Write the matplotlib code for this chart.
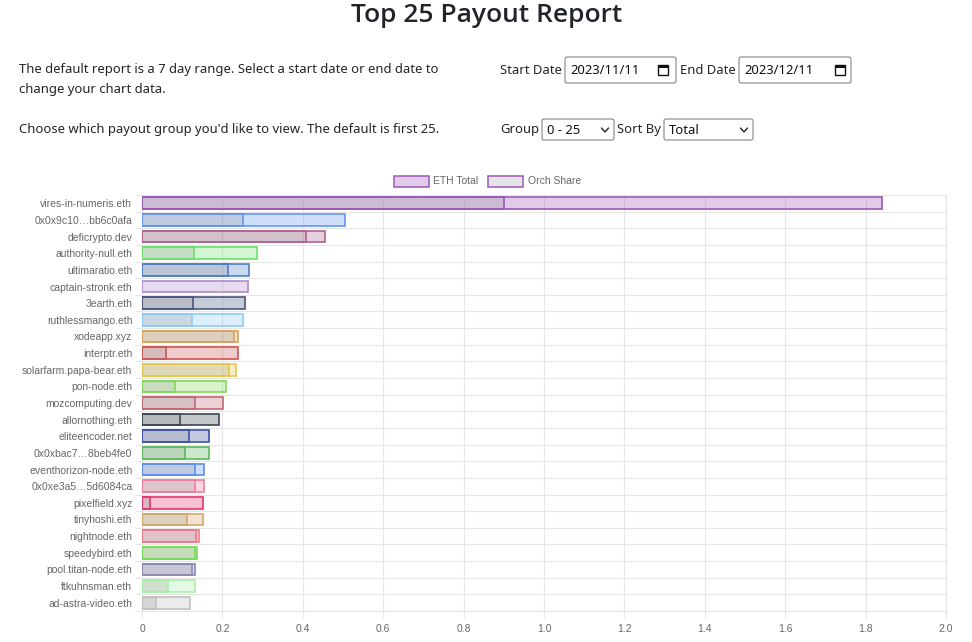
import matplotlib
matplotlib.use("Agg")
import matplotlib.pyplot as plt
from matplotlib.patches import Rectangle, FancyBboxPatch
from matplotlib.colors import to_rgb
import numpy as np

# ---------------- data ----------------
names = ["vires-in-numeris.eth", "0x0x9c10…bb6c0afa", "deficrypto.dev", "authority-null.eth",
         "ultimaratio.eth", "captain-stronk.eth", "3earth.eth", "ruthlessmango.eth",
         "xodeapp.xyz", "interptr.eth", "solarfarm.papa-bear.eth", "pon-node.eth",
         "mozcomputing.dev", "allornothing.eth", "eliteencoder.net", "0x0xbac7…8beb4fe0",
         "eventhorizon-node.eth", "0x0xe3a5…5d6084ca", "pixelfield.xyz", "tinyhoshi.eth",
         "nightnode.eth", "speedybird.eth", "pool.titan-node.eth", "ftkuhnsman.eth",
         "ad-astra-video.eth"]
eth_total = [1.840, 0.506, 0.454, 0.287, 0.265, 0.264, 0.256, 0.250, 0.240, 0.239,
             0.235, 0.208, 0.202, 0.192, 0.167, 0.167, 0.155, 0.155, 0.152, 0.152,
             0.142, 0.138, 0.132, 0.131, 0.119]
orch_share = [0.900, 0.252, 0.408, 0.129, 0.213, 0.0, 0.128, 0.125, 0.228, 0.059,
              0.216, 0.081, 0.131, 0.095, 0.116, 0.108, 0.131, 0.131, 0.021, 0.113,
              0.135, 0.132, 0.124, 0.065, 0.036]
bar_colors = ["#9b59b6", "#6495ed", "#b0648f", "#6ee06e", "#4f7fc6", "#b08ad0", "#4b5580",
              "#8ecbf5", "#d9a35c", "#cc5555", "#e6c84a", "#7ed957", "#c06878", "#3d4650",
              "#3f51a5", "#5cb85c", "#5b8ff0", "#f07ca0", "#e6336b", "#d4a86a", "#f0788c",
              "#77dd55", "#8a88b8", "#a8f0a8", "#c0c0c0"]
series_labels = ["ETH Total", "Orch Share"]
x_ticks = [0, 0.2, 0.4, 0.6, 0.8, 1.0, 1.2, 1.4, 1.6, 1.8, 2.0]

W, H = 972, 642
fig = plt.figure(figsize=(W / 100, H / 100), dpi=100)
fig.patch.set_facecolor("white")

PAGE_FONT = ["Noto Sans", "DejaVu Sans"]
TITLE_FONT = ["Open Sans", "DejaVu Sans"]
CHART_FONT = ["Liberation Sans", "DejaVu Sans"]
GRID = "#e6e6e6"
TXT = "#666666"

# ---------------- page overlay (pixel coordinates) ----------------
pa = fig.add_axes([0, 0, 1, 1])
pa.set_xlim(0, W)
pa.set_ylim(H, 0)
pa.axis("off")

pa.text(487, 15, "Top 25 Payout Report", ha="center", va="center",
        fontsize=19, fontweight="semibold", family=TITLE_FONT, color="#212529")

body = dict(fontsize=9.4, family=PAGE_FONT, color="#212529", va="center", ha="left")
pa.text(19, 69, "The default report is a 7 day range. Select a start date or end date to", **body)
pa.text(19, 89, "change your chart data.", **body)
pa.text(19, 130, "Choose which payout group you'd like to view. The default is first 25.", **body)

pa.text(500, 70, "Start Date", **body)
pa.text(680, 70, "End Date", **body)
pa.text(500, 130, "Group", **body)
pa.text(617, 130, "Sort By", **body)


def box(x0, y0, x1, y1):
    pa.add_patch(FancyBboxPatch((x0, y0), x1 - x0, y1 - y0,
                                boxstyle="round,pad=0,rounding_size=2",
                                facecolor="white", edgecolor="#858585", linewidth=0.8))


def calendar(cx, cy):
    pa.add_patch(Rectangle((cx - 5, cy - 5), 10, 10, facecolor="none",
                           edgecolor="#111111", linewidth=1.0))
    pa.add_patch(Rectangle((cx - 5, cy - 5), 10, 2.5, facecolor="#111111",
                           edgecolor="none"))


def chevron(cx, cy):
    pa.plot([cx - 3.5, cx, cx + 3.5], [cy - 2, cy + 2, cy - 2], color="#222222",
            linewidth=1.0, solid_capstyle="round")


inp = dict(fontsize=9.4, family=PAGE_FONT, color="#111111", va="center", ha="left")
box(565, 57, 676, 83)
pa.text(570, 70, "2023/11/11", **inp)
calendar(663, 70)
box(739, 57, 851, 83)
pa.text(744, 70, "2023/12/11", **inp)
calendar(840, 70)

box(542, 119, 614, 140)
pa.text(547, 130, "0 - 25", **inp)
chevron(605, 130)
box(664, 119, 753, 140)
pa.text(669, 130, "Total", **inp)
chevron(744, 130)

# legend
pa.add_patch(Rectangle((394, 176), 35, 11, facecolor=(*to_rgb(bar_colors[0]), 0.3),
                       edgecolor=bar_colors[0], linewidth=1.1))
pa.text(433, 181, series_labels[0], fontsize=7.5, family=CHART_FONT, color=TXT,
        va="center", ha="left")
pa.add_patch(Rectangle((488, 176), 35, 11, facecolor=(0.5, 0.5, 0.5, 0.2),
                       edgecolor=bar_colors[0], linewidth=1.1))
pa.text(528, 181, series_labels[1], fontsize=7.5, family=CHART_FONT, color=TXT,
        va="center", ha="left")

# ---------------- chart ----------------
left, right, top, bottom = 142, 946, 195, 611
ax = fig.add_axes([left / W, 1 - bottom / H, (right - left) / W, (bottom - top) / H])
ax.set_facecolor("none")

y = np.arange(len(names))
fills = [(*to_rgb(c), 0.3) for c in bar_colors]
ax.barh(y, eth_total, height=0.7, color=fills, edgecolor=bar_colors, linewidth=1.2, zorder=3)
share_lw = [1.2 if v > 0 else 0 for v in orch_share]
ax.barh(y, orch_share, height=0.7, color=(0.5, 0.5, 0.5, 0.2), edgecolor=bar_colors,
        linewidth=share_lw, zorder=4)

ax.set_xlim(0, 2.0)
ax.set_ylim(len(names) - 0.5, -0.5)
ax.set_xticks(x_ticks)
ax.set_xticklabels(["0" if t == 0 else f"{t:.1f}" for t in x_ticks])
ax.set_yticks(y)
ax.set_yticklabels(names)
ax.set_yticks(np.arange(-0.5, len(names), 1.0), minor=True)

ax.grid(True, axis="x", which="major", color=GRID, linewidth=0.8, zorder=0)
ax.grid(True, axis="y", which="minor", color=GRID, linewidth=0.8, zorder=0)
ax.tick_params(axis="x", which="major", length=5, color=GRID, width=0.8,
               labelsize=7.5, labelcolor=TXT, pad=4)
ax.tick_params(axis="y", which="major", length=0, labelsize=7.5, labelcolor=TXT, pad=7)
ax.tick_params(axis="y", which="minor", length=5, color=GRID, width=0.8)
ax.tick_params(axis="x", which="minor", length=0)
for lab in ax.get_xticklabels() + ax.get_yticklabels():
    lab.set_family(CHART_FONT)
for s in ax.spines.values():
    s.set_color(GRID)
    s.set_linewidth(0.8)

fig.savefig("out.png", dpi=100, facecolor="white")
